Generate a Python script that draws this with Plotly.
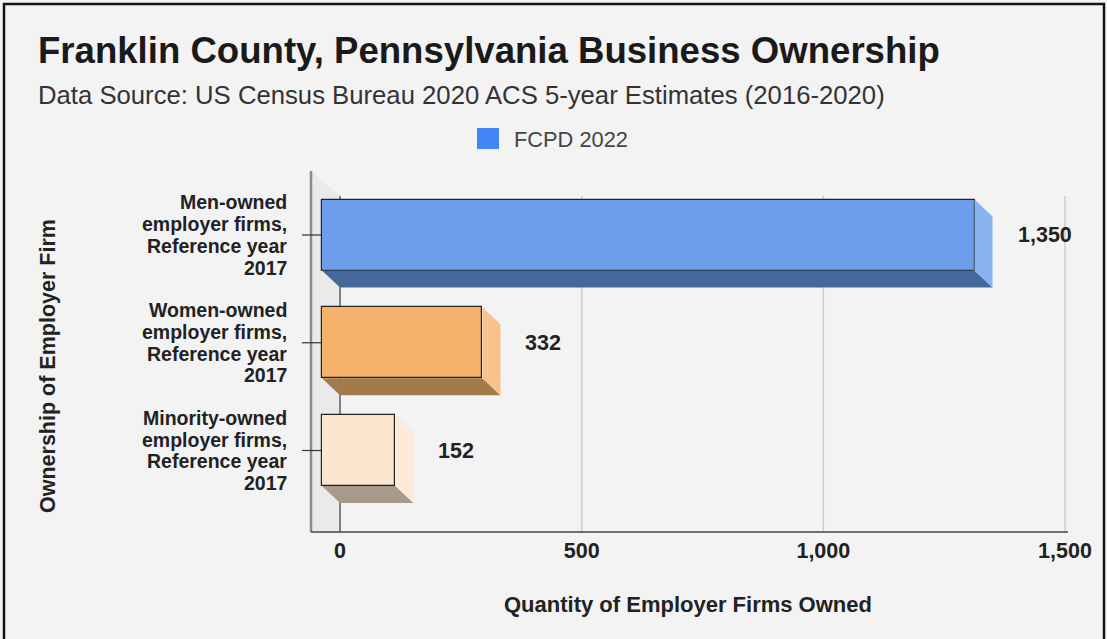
import plotly.graph_objects as go

# ---------------- data ----------------
category_labels = [
    "Men-owned<br>employer firms,<br>Reference year<br>2017",
    "Women-owned<br>employer firms,<br>Reference year<br>2017",
    "Minority-owned<br>employer firms,<br>Reference year<br>2017",
]
values = [1350, 332, 152]
x_ticks = [0, 500, 1000, 1500]
series_name = "FCPD 2022"
title_text = "Franklin County, Pennsylvania Business Ownership"
subtitle_text = "Data Source: US Census Bureau 2020 ACS 5-year Estimates (2016-2020)"
x_title = "Quantity of Employer Firms Owned"
y_title = "Ownership of Employer Firm"

# ---------------- style ----------------
W, H = 1107, 639
PL, PR, PT, PB = 300, 1070, 168, 534          # plot area in pixels
X0PX, X1PX, XMAX = 340, 1065, 1500            # x scale anchor pixels
Y0PX, YSTEP = 235, 107.75                     # first category centre, spacing
FONT = "Liberation Sans, Arial, sans-serif"
BG = "#f3f3f3"
front_colors = ["#6d9eeb", "#f6b26b", "#fce5cd"]
bottom_colors = ["#45689b", "#a57a4a", "#a89a8b"]
side_colors = ["#8ab4f0", "#f8c28c", "#fdeada"]
legend_color = "#4285f4"

upx = XMAX / (X1PX - X0PX)                    # data units per pixel (x)
def dx(px):
    return (px - X0PX) * upx
def dy(py):
    return (py - Y0PX) / YSTEP
def paper_x(px):
    return (px - PL) / (PR - PL)
def paper_y(py):
    return (PB - py) / (PB - PT)

DX = 18 * upx          # 3D depth in x (data units)
DY = 17 / YSTEP        # 3D depth in y (data units)
BAR_H = 71 / YSTEP     # front face height

positions = list(range(len(values)))

fig = go.Figure()

# 3D side faces
for i, v in enumerate(values):
    c = positions[i]
    top, bot = c - BAR_H / 2, c + BAR_H / 2
    # bottom face
    fig.add_trace(go.Scatter(
        x=[-DX, v - DX, v, 0, -DX],
        y=[bot, bot, bot + DY, bot + DY, bot],
        fill="toself", fillcolor=bottom_colors[i], mode="lines",
        line=dict(width=0, color=bottom_colors[i]),
        hoverinfo="skip", showlegend=False))
    # right face
    fig.add_trace(go.Scatter(
        x=[v - DX, v, v, v - DX, v - DX],
        y=[top, top + DY, bot + DY, bot, top],
        fill="toself", fillcolor=side_colors[i], mode="lines",
        line=dict(width=0, color=side_colors[i]),
        hoverinfo="skip", showlegend=False))

# front faces
fig.add_trace(go.Bar(
    orientation="h", y=positions, x=values, base=[-DX] * len(values),
    width=BAR_H, name=series_name,
    marker=dict(color=front_colors, line=dict(color="#222222", width=1.2)),
    showlegend=False,
    hovertemplate="%{x}<extra></extra>"))

shapes = []
ytop_back = dy(196)
ybottom = dy(532)
xwall = dx(311)
# wall shading
shapes.append(dict(type="path", xref="x", yref="y", layer="below",
                   path=f"M {xwall},{dy(171)} L 0,{ytop_back} L 0,{ybottom} L {xwall},{ybottom} Z",
                   fillcolor="#eaeaea", line=dict(width=0)))
# gridlines
for t in x_ticks[1:]:
    shapes.append(dict(type="line", xref="x", yref="y", layer="below",
                       x0=t, x1=t, y0=ytop_back, y1=ybottom,
                       line=dict(color="#cccccc", width=1.5)))
# zero line
shapes.append(dict(type="line", xref="x", yref="y", layer="below",
                   x0=0, x1=0, y0=ytop_back, y1=ybottom,
                   line=dict(color="#444444", width=1.3)))
# wall line
shapes.append(dict(type="line", xref="x", yref="y", layer="below",
                   x0=xwall, x1=xwall, y0=dy(171), y1=ybottom,
                   line=dict(color="#8a8a8a", width=2.5)))
# bottom axis line
shapes.append(dict(type="line", xref="x", yref="y", layer="below",
                   x0=xwall, x1=dx(1068), y0=ybottom, y1=ybottom,
                   line=dict(color="#444444", width=1.6)))
# y ticks
for p in positions:
    shapes.append(dict(type="line", xref="x", yref="y", layer="below",
                       x0=dx(302), x1=dx(322), y0=p, y1=p,
                       line=dict(color="#333333", width=1.2)))
# legend square
shapes.append(dict(type="rect", xref="paper", yref="paper",
                   x0=paper_x(477), x1=paper_x(499), y0=paper_y(149), y1=paper_y(128),
                   fillcolor=legend_color, line=dict(width=0)))
# outer border
shapes.append(dict(type="rect", xref="paper", yref="paper",
                   x0=paper_x(4), x1=paper_x(1104), y0=paper_y(660), y1=paper_y(4),
                   fillcolor="rgba(0,0,0,0)", line=dict(color="#111111", width=2.5)))

annotations = []
FS = 21.5
bold = dict(family=FONT, size=FS, color="#222222", weight="bold")
# title / subtitle
annotations.append(dict(text=title_text, xref="paper", yref="paper",
                        x=paper_x(36), y=paper_y(50), xanchor="left", yanchor="middle",
                        showarrow=False,
                        font=dict(family=FONT, size=36.6, color="#1a1a1a", weight="bold")))
annotations.append(dict(text=subtitle_text, xref="paper", yref="paper",
                        x=paper_x(36), y=paper_y(95), xanchor="left", yanchor="middle",
                        showarrow=False,
                        font=dict(family=FONT, size=25.7, color="#333333")))
# legend text
annotations.append(dict(text=series_name, xref="paper", yref="paper",
                        x=paper_x(512), y=paper_y(139), xanchor="left", yanchor="middle",
                        showarrow=False,
                        font=dict(family=FONT, size=21.8, color="#444444")))
# axis titles
annotations.append(dict(text=x_title, xref="paper", yref="paper",
                        x=paper_x(688), y=paper_y(604), xanchor="center", yanchor="middle",
                        showarrow=False, font=dict(bold, size=22)))
annotations.append(dict(text=y_title, xref="paper", yref="paper",
                        x=paper_x(48), y=paper_y(366), xanchor="center", yanchor="middle",
                        textangle=-90, showarrow=False, font=bold))
# category labels (tight line spacing, one text per line)
LS = 21.8
cat_font = dict(bold, size=19.5)
for i, lab in enumerate(category_labels):
    lines = lab.split("<br>")
    n = len(lines)
    for j, ln in enumerate(lines):
        annotations.append(dict(text=ln, xref="paper", yref="y",
                                x=paper_x(288), y=positions[i], xanchor="right",
                                yanchor="middle", yshift=-(j - (n - 1) / 2) * LS,
                                borderpad=0, showarrow=False, font=cat_font))
# value labels
for i, v in enumerate(values):
    annotations.append(dict(text=f"{v:,}", xref="x", yref="y",
                            x=v, y=positions[i], xanchor="left", yanchor="middle",
                            xshift=23, showarrow=False, font=bold))

fig.update_layout(
    width=W, height=H,
    margin=dict(l=PL, r=W - PR, t=PT, b=H - PB, pad=0),
    paper_bgcolor=BG, plot_bgcolor=BG,
    showlegend=False,
    bargap=0,
    shapes=shapes, annotations=annotations,
    xaxis=dict(range=[dx(PL), dx(PR)], tickvals=x_ticks,
               ticktext=[f"{t:,}" for t in x_ticks],
               showgrid=False, zeroline=False, showline=False, ticks="",
               ticklabelstandoff=1,
               tickfont=dict(family=FONT, size=FS, color="#222222", weight="bold"),
               fixedrange=True),
    yaxis=dict(range=[dy(PB), dy(PT)], tickvals=positions,
               showticklabels=False, showgrid=False, zeroline=False,
               showline=False, ticks="", fixedrange=True),
)

fig.write_html("out.html", config={"displayModeBar": False},
               post_script="document.body.style.margin='0';document.body.style.background='" + BG + "';")
